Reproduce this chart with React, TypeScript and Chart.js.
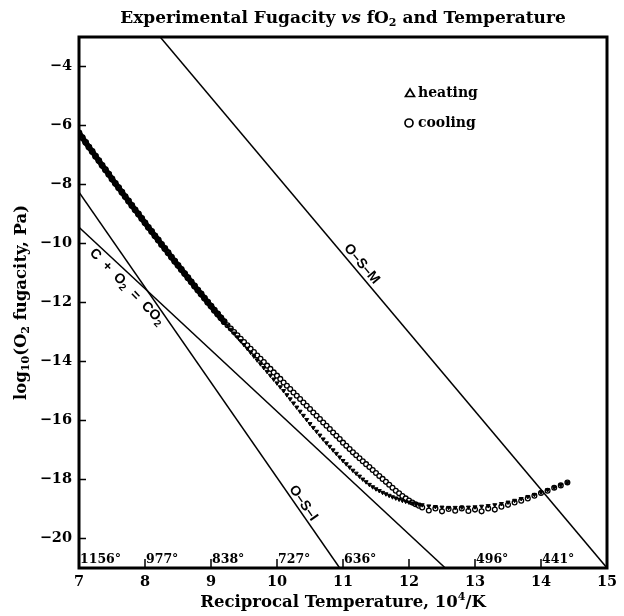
import React, { useEffect, useRef } from 'react';
import { Chart, registerables } from 'chart.js';

Chart.register(...registerables);

// ---------- data ----------
const X_TICKS = [7, 8, 9, 10, 11, 12, 13, 14, 15];
const Y_TICKS = [-20, -18, -16, -14, -12, -10, -8, -6, -4];
const TEMP_X = [7, 8, 9, 10, 11, 12, 13, 14];
const TEMP_LABELS = ['1156°', '977°', '838°', '727°', '636°', '', '496°', '441°'];

// reference equilibrium lines (end points)
const OSM_X = [8.23, 15.0];
const OSM_Y = [-3.0, -21.0];
const OSI_X = [7.0, 10.95];
const OSI_Y = [-8.26, -21.0];
const CCO2_X = [7.0, 12.55];
const CCO2_Y = [-9.45, -21.0];

// common high-temperature part (both runs overlap)
const STEEP_X = [
  7.0, 7.05, 7.1, 7.15, 7.2, 7.25, 7.3, 7.35, 7.4, 7.45, 7.5, 7.55, 7.6, 7.65, 7.7, 7.75,
  7.8, 7.85, 7.9, 7.95, 8.0, 8.05, 8.1, 8.15, 8.2, 8.25, 8.3, 8.35, 8.4, 8.45, 8.5, 8.55,
  8.6, 8.65, 8.7, 8.75, 8.8, 8.85, 8.9, 8.95, 9.0, 9.05, 9.1, 9.15, 9.2,
];
const STEEP_Y = [
  -6.25, -6.41, -6.57, -6.73, -6.88, -7.04, -7.19, -7.35, -7.5, -7.65, -7.81, -7.96, -8.11, -8.26, -8.41, -8.56,
  -8.71, -8.86, -9.0, -9.15, -9.3, -9.45, -9.59, -9.74, -9.88, -10.03, -10.17, -10.31, -10.46, -10.6, -10.74, -10.88,
  -11.02, -11.16, -11.3, -11.44, -11.58, -11.71, -11.85, -11.99, -12.12, -12.26, -12.39, -12.52, -12.65,
];

const COOL_TAIL_X = [
  9.25, 9.3, 9.35, 9.4, 9.45, 9.5, 9.55, 9.6, 9.65, 9.7, 9.75, 9.8, 9.85, 9.9, 9.95, 10.0,
  10.05, 10.1, 10.15, 10.2, 10.25, 10.3, 10.35, 10.4, 10.45, 10.5, 10.55, 10.6, 10.65, 10.7, 10.75, 10.8,
  10.85, 10.9, 10.95, 11.0, 11.05, 11.1, 11.15, 11.2, 11.25, 11.3, 11.35, 11.4, 11.45, 11.5, 11.55, 11.6,
  11.65, 11.7, 11.75, 11.8, 11.85, 11.9, 11.95, 12.0, 12.05, 12.1, 12.15,
  12.2, 12.3, 12.4, 12.5, 12.6, 12.7, 12.8, 12.9, 13.0, 13.1, 13.2, 13.3, 13.4, 13.5, 13.6, 13.7,
  13.8, 13.9, 14.0, 14.1, 14.2, 14.3, 14.4,
];
const COOL_TAIL_Y = [
  -12.77, -12.88, -13.0, -13.11, -13.23, -13.34, -13.45, -13.57, -13.68, -13.8, -13.91, -14.02, -14.14, -14.25, -14.37, -14.48,
  -14.59, -14.71, -14.82, -14.93, -15.05, -15.16, -15.27, -15.39, -15.5, -15.61, -15.73, -15.84, -15.95, -16.07, -16.18, -16.29,
  -16.41, -16.52, -16.63, -16.75, -16.86, -16.97, -17.08, -17.18, -17.28, -17.38, -17.48, -17.58, -17.68, -17.78, -17.88, -17.98,
  -18.08, -18.18, -18.28, -18.38, -18.47, -18.56, -18.64, -18.71, -18.78, -18.84, -18.89,
  -18.95, -19.05, -18.98, -19.08, -19.0, -19.06, -18.98, -19.07, -19.02, -19.08, -18.98, -19.02, -18.92, -18.86, -18.78, -18.72,
  -18.64, -18.55, -18.46, -18.38, -18.28, -18.2, -18.1,
];

const HEAT_TAIL_X = [
  9.25, 9.3, 9.35, 9.4, 9.45, 9.5, 9.55, 9.6, 9.65, 9.7, 9.75, 9.8, 9.85, 9.9, 9.95, 10.0,
  10.05, 10.1, 10.15, 10.2, 10.25, 10.3, 10.35, 10.4, 10.45, 10.5, 10.55, 10.6, 10.65, 10.7, 10.75, 10.8,
  10.85, 10.9, 10.95, 11.0, 11.05, 11.1, 11.15, 11.2, 11.25, 11.3, 11.35, 11.4, 11.45, 11.5, 11.55, 11.6,
  11.65, 11.7, 11.75, 11.8, 11.85, 11.9, 11.95, 12.0, 12.05, 12.1, 12.15, 12.2,
  12.3, 12.4, 12.5, 12.6, 12.7, 12.8, 12.9, 13.0, 13.1, 13.2, 13.3, 13.4, 13.5, 13.6, 13.7, 13.8,
  13.9, 14.0, 14.1, 14.2, 14.3, 14.4,
];
const HEAT_TAIL_Y = [
  -12.78, -12.91, -13.04, -13.17, -13.3, -13.43, -13.56, -13.69, -13.82, -13.95, -14.08, -14.21, -14.34, -14.47, -14.6, -14.73,
  -14.86, -14.99, -15.13, -15.27, -15.41, -15.55, -15.69, -15.83, -15.97, -16.11, -16.24, -16.37, -16.5, -16.63, -16.76, -16.88,
  -17.0, -17.12, -17.24, -17.36, -17.47, -17.58, -17.69, -17.79, -17.89, -17.99, -18.08, -18.17, -18.25, -18.32, -18.38, -18.44,
  -18.49, -18.54, -18.59, -18.63, -18.67, -18.71, -18.74, -18.77, -18.8, -18.82, -18.84, -18.86,
  -18.9, -18.92, -18.94, -18.95, -18.95, -18.94, -18.94, -18.93, -18.91, -18.89, -18.86, -18.82, -18.77, -18.71, -18.65, -18.58,
  -18.51, -18.43, -18.35, -18.27, -18.19, -18.11,
];

const HEAT_X = [...STEEP_X, ...HEAT_TAIL_X];
const HEAT_Y = [...STEEP_Y, ...HEAT_TAIL_Y];
const COOL_X = [...STEEP_X, ...COOL_TAIL_X];
const COOL_Y = [...STEEP_Y, ...COOL_TAIL_Y];

// ---------- styles ----------
const SERIF = '"DejaVu Serif", serif';
const SANS = '"Liberation Sans", Arial, sans-serif';

type Seg = { t: string; f: string; dy?: number };

function runsWidth(ctx: CanvasRenderingContext2D, segs: Seg[]) {
  let w = 0;
  for (const s of segs) {
    ctx.font = s.f;
    w += ctx.measureText(s.t).width;
  }
  return w;
}

function drawRuns(ctx: CanvasRenderingContext2D, segs: Seg[], cx: number, cy: number) {
  const w = runsWidth(ctx, segs);
  let x = cx - w / 2;
  ctx.textAlign = 'left';
  ctx.textBaseline = 'middle';
  for (const s of segs) {
    ctx.font = s.f;
    ctx.fillText(s.t, x, cy + (s.dy || 0));
    x += ctx.measureText(s.t).width;
  }
}

const pts = (xs: number[], ys: number[]) => xs.map((x, i) => ({ x, y: ys[i] }));

const decor = {
  id: 'decor',
  afterDatasetsDraw(chart: any) {
    const { ctx, chartArea: a, scales } = chart;
    const xs = scales.x;
    const ys = scales.y;
    ctx.save();
    ctx.fillStyle = '#000';
    ctx.strokeStyle = '#000';

    // frame
    ctx.lineWidth = 3;
    ctx.strokeRect(a.left, a.top, a.right - a.left, a.bottom - a.top);

    // inner ticks
    ctx.lineWidth = 1.5;
    ctx.beginPath();
    for (const v of Y_TICKS) {
      const py = ys.getPixelForValue(v);
      ctx.moveTo(a.left, py);
      ctx.lineTo(a.left + 7, py);
    }
    for (const v of TEMP_X) {
      if (v === X_TICKS[0]) continue;
      const px = xs.getPixelForValue(v);
      ctx.moveTo(px, a.bottom);
      ctx.lineTo(px, a.bottom - 9);
    }
    ctx.stroke();

    // temperature labels
    ctx.font = `bold 12.5px ${SERIF}`;
    ctx.textAlign = 'left';
    ctx.textBaseline = 'alphabetic';
    TEMP_X.forEach((v, i) => {
      if (!TEMP_LABELS[i]) return;
      const px = xs.getPixelForValue(v);
      ctx.fillText(TEMP_LABELS[i], px + 1, a.bottom - 5);
    });

    // title
    const tf = `bold 17px ${SERIF}`;
    const ti = `italic bold 17px ${SERIF}`;
    const ts = `bold 11px ${SERIF}`;
    drawRuns(
      ctx,
      [
        { t: 'Experimental Fugacity ', f: tf },
        { t: 'vs', f: ti },
        { t: ' fO', f: tf },
        { t: '2', f: ts, dy: 4 },
        { t: ' and Temperature', f: tf },
      ],
      (a.left + a.right) / 2,
      19
    );

    // x axis title
    const af = `bold 16.5px ${SERIF}`;
    const as = `bold 11px ${SERIF}`;
    drawRuns(
      ctx,
      [
        { t: 'Reciprocal Temperature, 10', f: af },
        { t: '4', f: as, dy: -6 },
        { t: '/K', f: af },
      ],
      (a.left + a.right) / 2,
      603
    );

    // y axis title
    ctx.save();
    ctx.translate(22, (a.top + a.bottom) / 2);
    ctx.rotate(-Math.PI / 2);
    drawRuns(
      ctx,
      [
        { t: 'log', f: af },
        { t: '10', f: as, dy: 4 },
        { t: '(O', f: af },
        { t: '2', f: as, dy: 4 },
        { t: ' fugacity, Pa)', f: af },
      ],
      0,
      0
    );
    ctx.restore();

    // line labels
    const lf = `bold 14px ${SANS}`;
    const lsub = `bold 10px ${SANS}`;
    const lineLabel = (lx: number[], ly: number[], at: number, off: number, segs: Seg[], extraRot = 0) => {
      const x1 = xs.getPixelForValue(lx[0]);
      const y1 = ys.getPixelForValue(ly[0]);
      const x2 = xs.getPixelForValue(lx[1]);
      const y2 = ys.getPixelForValue(ly[1]);
      const ang = Math.atan2(y2 - y1, x2 - x1);
      const t = (at - lx[0]) / (lx[1] - lx[0]);
      const px = x1 + t * (x2 - x1);
      const py = y1 + t * (y2 - y1);
      const nx = Math.sin(ang);
      const ny = -Math.cos(ang);
      ctx.save();
      ctx.translate(px + nx * off, py + ny * off);
      ctx.rotate(ang + extraRot);
      drawRuns(ctx, segs, 0, 0);
      ctx.restore();
    };
    lineLabel(OSM_X, OSM_Y, 11.19, 8, [{ t: 'O–S–M', f: lf }]);
    lineLabel(OSI_X, OSI_Y, 10.31, 7, [{ t: 'O–S–I', f: lf }]);
    lineLabel(
      CCO2_X,
      CCO2_Y,
      7.84,
      -11,
      [
        { t: 'C  +  O', f: lf },
        { t: '2', f: lsub, dy: 4 },
        { t: '  =  CO', f: lf },
        { t: '2', f: lsub, dy: 4 },
      ],
      0.05
    );

    // legend
    const lx = a.left + 331;
    const ly1 = a.top + 56;
    const ly2 = a.top + 86;
    ctx.lineWidth = 1.7;
    ctx.beginPath();
    ctx.moveTo(lx, ly1 - 4);
    ctx.lineTo(lx + 4.5, ly1 + 3.5);
    ctx.lineTo(lx - 4.5, ly1 + 3.5);
    ctx.closePath();
    ctx.stroke();
    ctx.beginPath();
    ctx.arc(lx - 1, ly2, 4, 0, Math.PI * 2);
    ctx.stroke();
    ctx.font = `bold 14px ${SERIF}`;
    ctx.textAlign = 'left';
    ctx.textBaseline = 'middle';
    ctx.fillText('heating', lx + 8, ly1);
    ctx.fillText('cooling', lx + 8, ly2);

    ctx.restore();
  },
};

export default function App() {
  const ref = useRef<HTMLCanvasElement>(null);

  useEffect(() => {
    document.body.style.margin = '0';
    const canvas = ref.current!;
    const nSteep = STEEP_X.length;
    const inSteep = (c: any) => c.p1DataIndex < nSteep;
    const lineDs = (label: string, xs: number[], ys: number[]) => ({
      label,
      data: pts(xs, ys),
      showLine: true,
      borderColor: '#000',
      borderWidth: 1.5,
      pointRadius: 0,
      order: 3,
    });
    const chart = new Chart(canvas, {
      type: 'scatter',
      data: {
        datasets: [
          {
            label: 'heating',
            data: pts(HEAT_X, HEAT_Y),
            pointStyle: 'triangle',
            rotation: 180,
            pointRadius: (c: any) => (c.dataIndex < nSteep ? 3 : 2.3),
            backgroundColor: '#000',
            borderColor: '#000',
            pointBorderWidth: 1,
            order: 1,
          },
          {
            label: 'cooling',
            data: pts(COOL_X, COOL_Y),
            showLine: true,
            borderColor: '#000',
            borderWidth: 5,
            borderCapStyle: 'round',
            segment: {
              borderColor: (c: any) => (inSteep(c) ? '#000' : 'rgba(0,0,0,0)'),
              borderWidth: (c: any) => (inSteep(c) ? 5.5 : 0),
            },
            pointStyle: 'circle',
            pointRadius: 2.4,
            pointBackgroundColor: '#fff',
            pointBorderColor: '#000',
            pointBorderWidth: (c: any) => (c.dataIndex < nSteep ? 2 : 1.3),
            order: 2,
          },
          lineDs('O-S-M', OSM_X, OSM_Y),
          lineDs('O-S-I', OSI_X, OSI_Y),
          lineDs('C + O2 = CO2', CCO2_X, CCO2_Y),
        ] as any,
      },
      options: {
        responsive: false,
        animation: false,
        devicePixelRatio: 1,
        events: [],
        layout: { padding: { top: 37, right: 17, bottom: 0, left: 0 } },
        plugins: {
          legend: { display: false },
          title: { display: false },
          tooltip: { enabled: false },
        },
        scales: {
          x: {
            type: 'linear',
            min: 7,
            max: 15,
            grid: { display: false, drawTicks: false },
            border: { display: false },
            afterFit: (s: any) => {
              s.height = 48;
            },
            afterBuildTicks: (s: any) => {
              s.ticks = X_TICKS.map((v) => ({ value: v }));
            },
            ticks: {
              padding: 6,
              color: '#000',
              font: { family: SERIF, size: 14.5, weight: 'bold' },
              callback: (v: any) => String(v),
            },
          },
          y: {
            type: 'linear',
            min: -21,
            max: -3,
            grid: { display: false, drawTicks: false },
            border: { display: false },
            afterFit: (s: any) => {
              s.width = 79;
            },
            afterBuildTicks: (s: any) => {
              s.ticks = Y_TICKS.map((v) => ({ value: v }));
            },
            ticks: {
              padding: 7,
              color: '#000',
              font: { family: SERIF, size: 14.5, weight: 'bold' },
              callback: (v: any) => (v < 0 ? '\u2212' + Math.abs(v) : String(v)),
            },
          },
        },
      } as any,
      plugins: [decor],
    });
    return () => chart.destroy();
  }, []);

  return (
    <div style={{ width: 624, height: 616 }}>
      <canvas ref={ref} width={624} height={616} style={{ display: 'block' }} />
    </div>
  );
}
